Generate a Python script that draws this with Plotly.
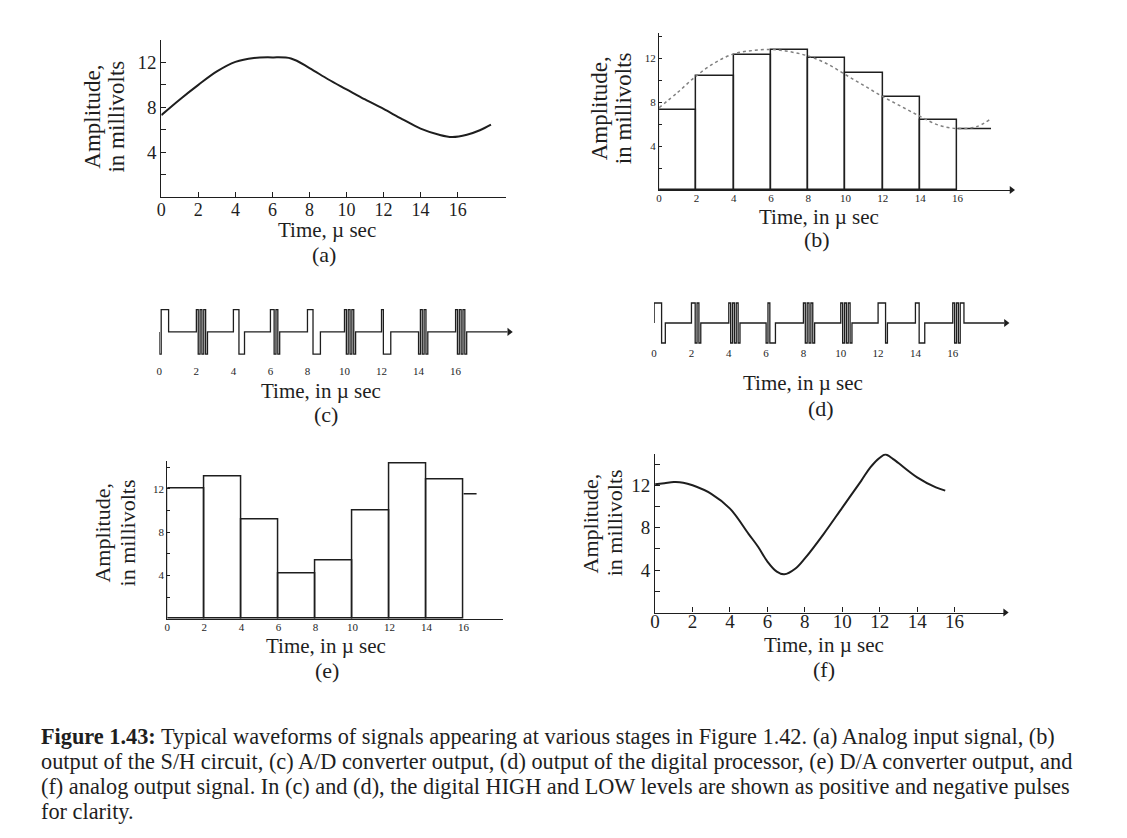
import plotly.graph_objects as go

W, H = 1127, 838
OFF = 8  # page body margin of the browser
FW, FH = W - OFF, H - OFF
FONT = "Liberation Serif"
INK = "#1e1e1e"

# ---------------- data ----------------
t_ticks = [0, 2, 4, 6, 8, 10, 12, 14, 16]
t_tick_text = ["0", "2", "4", "6", "8", "10", "12", "14", "16"]
amp_ticks = [2, 4, 6, 8, 10, 12, 14]
amp_tick_text = ["", "4", "", "8", "", "12", ""]

# (a) analog input signal
analog_in_t = [0, 1, 2, 3, 4, 5, 6, 7, 8, 9, 10, 11, 12, 13, 14, 15, 15.7, 16.5, 17.2, 17.8]
analog_in_v = [7.3, 8.7, 10.0, 11.2, 12.05, 12.4, 12.45, 12.35, 11.5, 10.5, 9.6, 8.7, 7.85, 6.95, 6.1, 5.55, 5.35, 5.55, 5.95, 6.45]

# (b) dotted reference curve and sample-and-hold levels
ref_b_t = [0, 1, 2, 3, 4, 5, 6, 7, 8, 9, 10, 11, 12, 13, 14, 15, 16, 17, 17.8]
ref_b_v = [7.5, 8.9, 10.4, 11.6, 12.4, 12.7, 12.8, 12.6, 12.2, 11.5, 10.5, 9.5, 8.5, 7.6, 6.7, 5.9, 5.6, 5.75, 6.5]
sh_t = [0, 2, 4, 6, 8, 10, 12, 14]
sh_v = [7.3, 10.4, 12.3, 12.75, 12.05, 10.7, 8.45, 6.4]
sh_tail_t = [16, 17.8]
sh_tail_v = [5.6, 5.6]

# (c) A/D converter output and (d) digital processor output: pulse codes per sample
code_t = [0, 2, 4, 6, 8, 10, 12, 14, 16]
adc_codes = [
    [-1, 1, 1, 1, 1],
    [1, -1, 1, -1, 1, -1],
    [1, 1, 1, -1, -1, -1],
    [1, 1, -1, 1, -1],
    [1, 1, 1, -1, -1, -1, -1],
    [1, -1, 1, -1, 1, -1],
    [1, -1, -1, -1, -1],
    [-1, 1, -1, 1, -1],
    [1, -1, 1, -1, 1, -1],
]
dsp_codes = [
    [1, 1, 1, 1, -1, -1],
    [1, 1, -1, 1, -1],
    [1, -1, 1, -1, 1, -1],
    [-1, 1, -1, -1, -1],
    [1, -1, 1, -1, 1, -1],
    [1, -1, 1, -1, 1, -1],
    [1, 1, 1, 1, -1],
    [1, 1, -1, -1, -1],
    [1, -1, 1, -1, 1, 1],
]
bit_width = 0.1

# (e) D/A converter output
da_t = [0, 2, 4, 6, 8, 10, 12, 14]
da_v = [12.0, 13.15, 9.2, 4.15, 5.4, 10.0, 14.3, 12.85]
da_tail_t = [16, 16.7]
da_tail_v = [11.55, 11.55]

# (f) analog output signal
analog_out_t = [0, 0.5, 1, 1.5, 2, 3, 4, 5, 5.5, 6, 6.5, 6.9, 7.5, 8, 9, 10, 11, 11.5, 12, 12.3, 12.7, 13, 14, 15, 15.5]
analog_out_v = [12.1, 12.2, 12.3, 12.25, 12.0, 11.2, 9.8, 7.4, 6.2, 4.8, 3.85, 3.6, 4.15, 5.1, 7.4, 9.9, 12.4, 13.7, 14.6, 14.9, 14.5, 14.1, 12.75, 11.8, 11.5]

caption_lines = [
    "<b>Figure 1.43:</b> Typical waveforms of signals appearing at various stages in Figure 1.42. (a) Analog input signal, (b)",
    "output of the S/H circuit, (c) A/D converter output, (d) output of the digital processor, (e) D/A converter output, and",
    "(f) analog output signal. In (c) and (d), the digital HIGH and LOW levels are shown as positive and negative pulses",
    "for clarity.",
]


# ---------------- helpers ----------------
def fx(px):
    return (px - OFF) / FW


def fy(py):
    return 1 - (py - OFF) / FH


def pulse_train(codes, starts, end):
    xs, ys = [0], [0]
    for s, code in zip(starts, codes):
        for i, lvl in enumerate(code):
            xs.append(s + i * bit_width)
            ys.append(lvl)
        xs.append(s + len(code) * bit_width)
        ys.append(0)
    xs.append(end)
    ys.append(0)
    return xs, ys


fig = go.Figure()
common = dict(showlegend=False, hoverinfo="skip")

# (a)
fig.add_trace(go.Scatter(x=analog_in_t, y=analog_in_v, mode="lines",
                         line=dict(color=INK, width=2, shape="spline"),
                         xaxis="x", yaxis="y", **common))

# (b)
fig.add_trace(go.Bar(x=sh_t, y=sh_v, width=2, offset=0,
                     marker=dict(color="rgba(0,0,0,0)", line=dict(color=INK, width=1.5)),
                     xaxis="x2", yaxis="y2", **common))
fig.add_trace(go.Scatter(x=sh_tail_t, y=sh_tail_v, mode="lines",
                         line=dict(color=INK, width=1.5),
                         xaxis="x2", yaxis="y2", **common))
fig.add_trace(go.Scatter(x=ref_b_t, y=ref_b_v, mode="lines",
                         line=dict(color="#808080", width=1.5, dash="dot", shape="spline"),
                         xaxis="x2", yaxis="y2", **common))

# (c)
cx, cy = pulse_train(adc_codes, code_t, 18.8)
fig.add_trace(go.Scatter(x=cx, y=cy, mode="lines", line=dict(color=INK, width=1.3, shape="hv"),
                         xaxis="x3", yaxis="y3", **common))
# (d)
dx, dy = pulse_train(dsp_codes, code_t, 18.75)
fig.add_trace(go.Scatter(x=dx, y=dy, mode="lines", line=dict(color=INK, width=1.3, shape="hv"),
                         xaxis="x4", yaxis="y4", **common))

# (e)
fig.add_trace(go.Bar(x=da_t, y=da_v, width=2, offset=0,
                     marker=dict(color="rgba(0,0,0,0)", line=dict(color=INK, width=1.5)),
                     xaxis="x5", yaxis="y5", **common))
fig.add_trace(go.Scatter(x=da_tail_t, y=da_tail_v, mode="lines",
                         line=dict(color=INK, width=1.5),
                         xaxis="x5", yaxis="y5", **common))

# (f)
fig.add_trace(go.Scatter(x=analog_out_t, y=analog_out_v, mode="lines",
                         line=dict(color=INK, width=2, shape="spline"),
                         xaxis="x6", yaxis="y6", **common))

# arrow heads at ends of time axes
for xa, ya, xend in [("x2", "y2", 18.9), ("x3", "y3", 18.9), ("x4", "y4", 18.85), ("x6", "y6", 18.7)]:
    fig.add_trace(go.Scatter(x=[xend], y=[0], mode="markers",
                             marker=dict(symbol="triangle-right", size=7, color=INK),
                             cliponaxis=False, xaxis=xa, yaxis=ya, **common))


def xaxis(dom, rng, anchor, size, line=True, ticks="inside", standoff=0):
    return dict(domain=[fx(dom[0]), fx(dom[1])], range=rng, anchor=anchor,
                showline=line, linecolor=INK, linewidth=1.3, ticks=ticks, ticklen=5,
                tickcolor=INK, tickvals=t_ticks, ticktext=t_tick_text,
                tickfont=dict(family=FONT, size=size, color=INK), ticklabelstandoff=standoff,
                showgrid=False, zeroline=False, fixedrange=True)


def yaxis(dom, rng, anchor, size, ticklen=5):
    return dict(domain=[fy(dom[0]), fy(dom[1])], range=rng, anchor=anchor,
                showline=True, linecolor=INK, linewidth=1.3, ticks="inside", ticklen=ticklen,
                tickcolor=INK, tickvals=amp_ticks, ticktext=amp_tick_text,
                tickfont=dict(family=FONT, size=size, color=INK),
                showgrid=False, zeroline=False, fixedrange=True)


layout = dict(
    width=FW, height=FH, margin=dict(l=0, r=0, t=0, b=0),
    paper_bgcolor="white", plot_bgcolor="rgba(0,0,0,0)",
    showlegend=False, bargap=0,
    xaxis=xaxis((157, 503), [0, 18.6], "y", 18, standoff=-4),
    yaxis=yaxis((197, 40), [0, 14], "x", 19),
    xaxis2=xaxis((657, 1011), [0, 18.9], "y2", 11, ticks="", standoff=-2),
    yaxis2=yaxis((190, 33), [0, 14.3], "x2", 11, ticklen=3),
    xaxis3=xaxis((155, 506.5), [0, 18.9], "y3", 11, line=False, ticks=""),
    yaxis3=dict(domain=[fy(363), fy(303)], range=[-1.4, 1.3], anchor="x3", visible=False, fixedrange=True),
    xaxis4=xaxis((652, 1005.4), [0, 18.85], "y4", 11, line=False, ticks=""),
    yaxis4=dict(domain=[fy(345), fy(297)], range=[-1.1, 1.3], anchor="x4", visible=False, fixedrange=True),
    xaxis5=xaxis((163, 499.7), [0, 18.1], "y5", 11, ticks="", standoff=-2),
    yaxis5=yaxis((619, 460.6), [0, 14.6], "x5", 11, ticklen=3),
    xaxis6=xaxis((653, 1004.6), [0, 18.7], "y6", 19, standoff=-8),
    yaxis6=yaxis((612.5, 453.5), [0, 15], "x6", 19),
)

ann = []


def text(px, py, s, size, angle=0, xanchor="center"):
    ann.append(dict(x=fx(px), y=fy(py), xref="paper", yref="paper", text=s, showarrow=False,
                    textangle=angle, xanchor=xanchor, yanchor="middle",
                    font=dict(family=FONT, size=size, color=INK)))


# panel labels and axis titles
text(323, 230, "Time, µ sec", 21)
text(320, 255, "(a)", 22)
text(88, 117, "Amplitude,", 23, -90)
text(112, 117, "in millivolts", 23, -90)

text(818, 217, "Time, in µ sec", 21)
text(816, 240, "(b)", 22)
text(598, 108, "Amplitude,", 23, -90)
text(622, 108, "in millivolts", 23, -90)

text(317, 391, "Time, in µ sec", 21)
text(322, 415, "(c)", 22)

text(802, 383, "Time, in µ sec", 21)
text(820, 409, "(d)", 22)

text(322, 646, "Time, in µ sec", 21)
text(323, 670, "(e)", 22)
text(97, 533, "Amplitude,", 22, -90)
text(123, 533, "in millivolts", 22, -90)

text(823, 645, "Time, in µ sec", 21)
text(823, 669, "(f)", 22)
text(588, 523, "Amplitude,", 22, -90)
text(612, 523, "in millivolts", 22, -90)

for i, line in enumerate(caption_lines):
    text(34, 736 + 25 * i, line, 22.3, xanchor="left")

layout["annotations"] = ann
fig.update_layout(**layout)
fig.write_html("out.html")
